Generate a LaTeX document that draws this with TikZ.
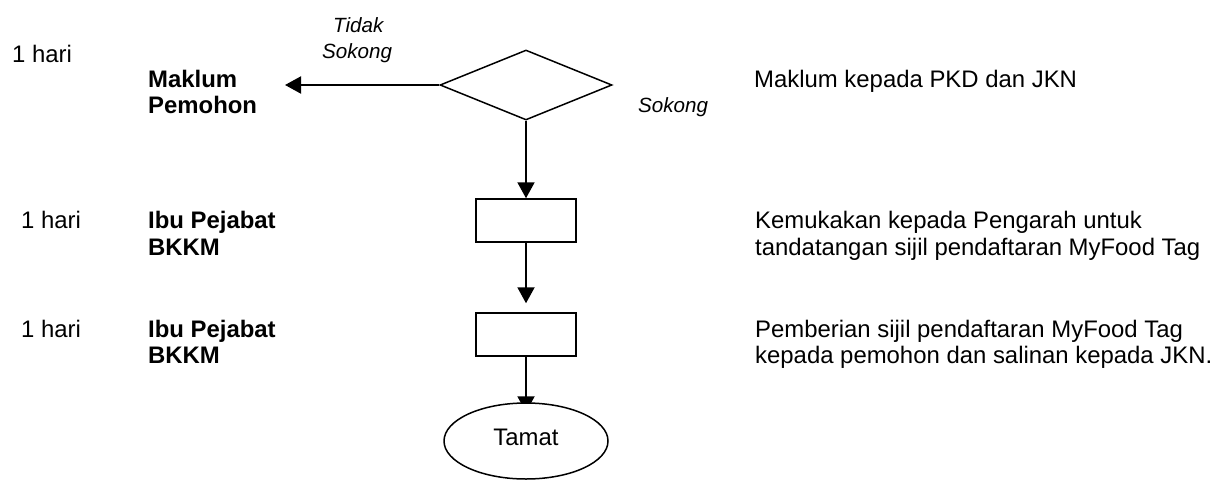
\documentclass[tikz,border=0pt]{standalone}
\usepackage{fontspec}
\setmainfont{Liberation Sans}
\usetikzlibrary{arrows.meta,shapes.geometric,backgrounds}
\begin{document}
\begin{tikzpicture}[x=1pt,y=-1pt,
  txt/.style={anchor=base west,inner sep=0pt,font=\fontsize{23.9}{26.5}\selectfont},
  bold/.style={txt,font=\fontsize{23.9}{26.5}\selectfont\bfseries},
  ital/.style={txt,font=\fontsize{20.6}{24}\selectfont\itshape},
  flow/.style={line width=2pt,-{Triangle[length=16pt,width=17pt]}},
  box/.style={draw,line width=1.5pt,minimum width=100pt,minimum height=43pt,inner sep=0pt},
  decision/.style={draw,diamond,line width=1.5pt,aspect=2.46,minimum width=172pt,minimum height=70pt,inner sep=0pt},
  term/.style={draw,ellipse,fill=white,line width=1.5pt,minimum width=164pt,minimum height=76pt,inner sep=0pt,
    font=\fontsize{23.9}{26.5}\selectfont,text height=17pt,text depth=9pt}]
\useasboundingbox (0,0) rectangle (1217,479);

% flow shapes
\node[decision] (dec) at (526,85) {};
\node[box] (b1) at (526,220.5) {};
\node[box] (b2) at (526,334.5) {};
\node[term] (end) at (526,441) {Tamat};
\coordinate (mk) at (285,85);

% connectors
\draw[flow] (dec.west) -- (mk);
\draw[flow] (dec.south) -- (b1.north);
\draw[flow,shorten >=9pt] (b1.south) -- (b2.north);
\begin{scope}[on background layer]
\draw[flow,shorten >=-10pt] (b2.south) -- (end.north);
\end{scope}

% decision labels
\node[ital] (t1) at (333,32) {Tidak};
\node[ital] (t2) at (322,58) {Sokong};
\node[ital] (t3) at (638,112) {Sokong};

% left column
\node[txt] (h1) at (12,62) {1 hari};
\node[bold] (l1a) at (148,87) {Maklum};
\node[bold] (l1b) at (148,113) {Pemohon};
\node[txt] (h2) at (21,228) {1 hari};
\node[bold] (l2a) at (148,228) {Ibu Pejabat};
\node[bold] (l2b) at (148,255) {BKKM};
\node[txt] (h3) at (21,337) {1 hari};
\node[bold] (l3a) at (148,337) {Ibu Pejabat};
\node[bold] (l3b) at (148,363) {BKKM};

% right column
\node[txt] (r1) at (754,87) {Maklum kepada PKD dan JKN};
\node[txt] (r2a) at (755,228) {Kemukakan kepada Pengarah untuk};
\node[txt] (r2b) at (755,255) {tandatangan sijil pendaftaran MyFood Tag};
\node[txt] (r3a) at (755,337) {Pemberian sijil pendaftaran MyFood Tag};
\node[txt] (r3b) at (755,363) {kepada pemohon dan salinan kepada JKN.};
\end{tikzpicture}
\end{document}
